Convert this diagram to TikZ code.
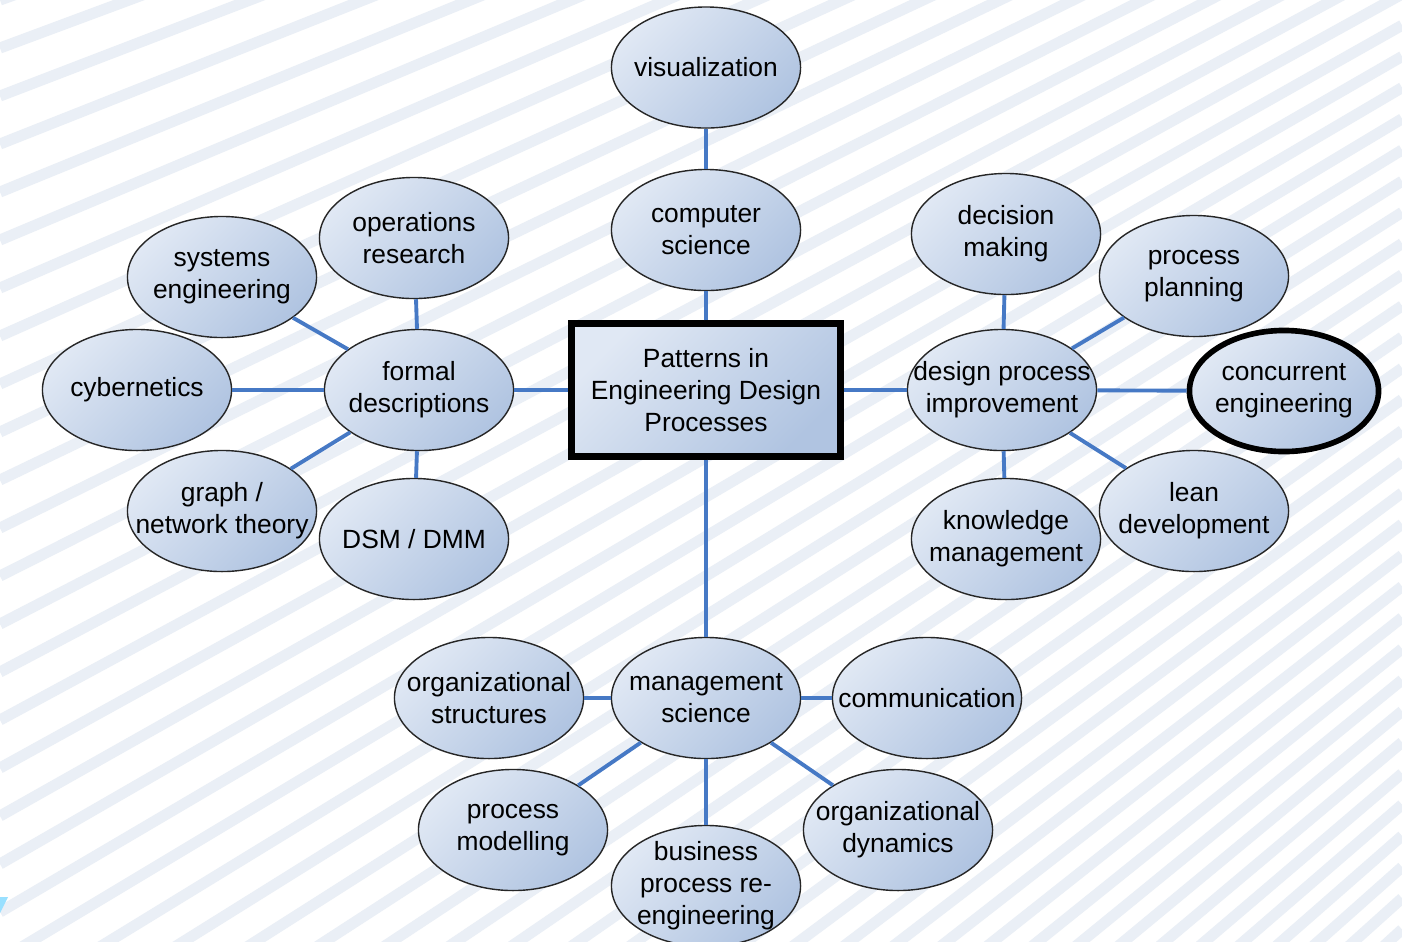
\documentclass[tikz,border=0pt]{standalone}
\usepackage{fontspec}
\setmainfont{Liberation Sans}
\usepackage{xcolor}
\usepackage{tikz}
\usetikzlibrary{positioning,shapes}

\definecolor{bublight}{RGB}{224,232,244}
\definecolor{bubdark}{RGB}{176,196,225}
\definecolor{linkblue}{RGB}{70,121,197}
\definecolor{stripe}{RGB}{234,239,246}

\tikzset{
  bubble/.style={ellipse, draw=black!85, line width=0.4pt,
    top color=bublight, bottom color=bubdark, shading angle=45,
    minimum width=1.89cm, minimum height=1.21cm,
    inner xsep=-0.3cm, inner ysep=-0.2cm, align=center},
  focus/.style={bubble, line width=1.6pt, draw=black},
  corebox/.style={rectangle, draw=black, line width=2pt,
    top color=bublight, bottom color=bubdark, shading angle=45,
    minimum width=2.68cm, minimum height=1.32cm, inner sep=0pt, align=center},
  link/.style={draw=linkblue, line width=1.1pt}
}

\begin{document}
\begin{tikzpicture}[x=0.01cm,y=-0.01cm,font=\fontsize{7.5}{9.1}\selectfont]
            \useasboundingbox (0,0) rectangle (1402,941);
            % striped backdrop, fanning out to the right
            \begin{scope}
            \clip (0,0) rectangle (1402,941);
            \fill[white] (0,0) rectangle (1402,941);
            \foreach \k in {0,...,52}
                \draw[stripe, line width=0.11cm] (0,{\k*48}) -- ++(1402,{-1402*(0.36+\k*48/4000)});
            \fill[blue!30!cyan!40] (0,897) -- (8,897) -- (0,913) -- cycle;
            \end{scope}

            \draw node[corebox] (core) at (706,390) {Patterns in\\Engineering Design\\Processes} ;
            \draw node[bubble] (cs) at (706,230) {computer\\science} ;
            \draw node[bubble, above=0.4cm of cs] (vis) {visualization} ;

            % formal side
            \draw node[bubble] (fd) at (419,390) {formal\\descriptions} ;
            \draw node[bubble] (opr) at (414,238) {operations\\research} ;
            \draw node[bubble] (se) at (222,277) {systems\\engineering} ;
            \draw node[bubble] (cyb) at (137,390) {cybernetics} ;
            \draw node[bubble] (gnt) at (222,511) {graph /\\network theory} ;
            \draw node[bubble] (dsm) at (414,539) {DSM / DMM} ;

            % improvement side
            \draw node[bubble] (dpi) at (1002,390) {design process\\improvement} ;
            \draw node[bubble] (dm) at (1006,234) {decision\\making} ;
            \draw node[bubble] (pp) at (1194,276) {process\\planning} ;
            \draw node[focus] (ce) at (1284,391) {concurrent\\engineering} ;
            \draw node[bubble] (lean) at (1194,511) {lean\\development} ;
            \draw node[bubble] (km) at (1006,539) {knowledge\\management} ;

            % management side
            \draw node[bubble] (ms) at (706,698) {management\\science} ;
            \draw node[bubble] (ost) at (489,698) {organizational\\structures} ;
            \draw node[bubble] (comm) at (927,698) {communication} ;
            \draw node[bubble] (pm) at (513,830) {process\\modelling} ;
            \draw node[bubble] (bpr) at (706,886) {business\\process re-\\engineering} ;
            \draw node[bubble] (od) at (898,830) {organizational\\dynamics} ;

            \draw[link] (core) -- (cs) ;
            \draw[link] (cs) -- (vis) ;
            \draw[link] (core) -- (fd) ;
            \draw[link] (core) -- (dpi) ;
            \draw[link] (core) -- (ms) ;

            \draw[link] (fd) -- (opr) ;
            \draw[link] (fd) -- (se) ;
            \draw[link] (fd) -- (cyb) ;
            \draw[link] (fd) -- (gnt) ;
            \draw[link] (fd) -- (dsm) ;

            \draw[link] (dpi) -- (dm) ;
            \draw[link] (dpi) -- (pp) ;
            \draw[link] (dpi) -- (ce) ;
            \draw[link] (dpi) -- (lean) ;
            \draw[link] (dpi) -- (km) ;

            \draw[link] (ms) -- (ost) ;
            \draw[link] (ms) -- (comm) ;
            \draw[link] (ms) -- (pm) ;
            \draw[link] (ms) -- (bpr) ;
            \draw[link] (ms) -- (od) ;
        \end{tikzpicture}
\end{document}
